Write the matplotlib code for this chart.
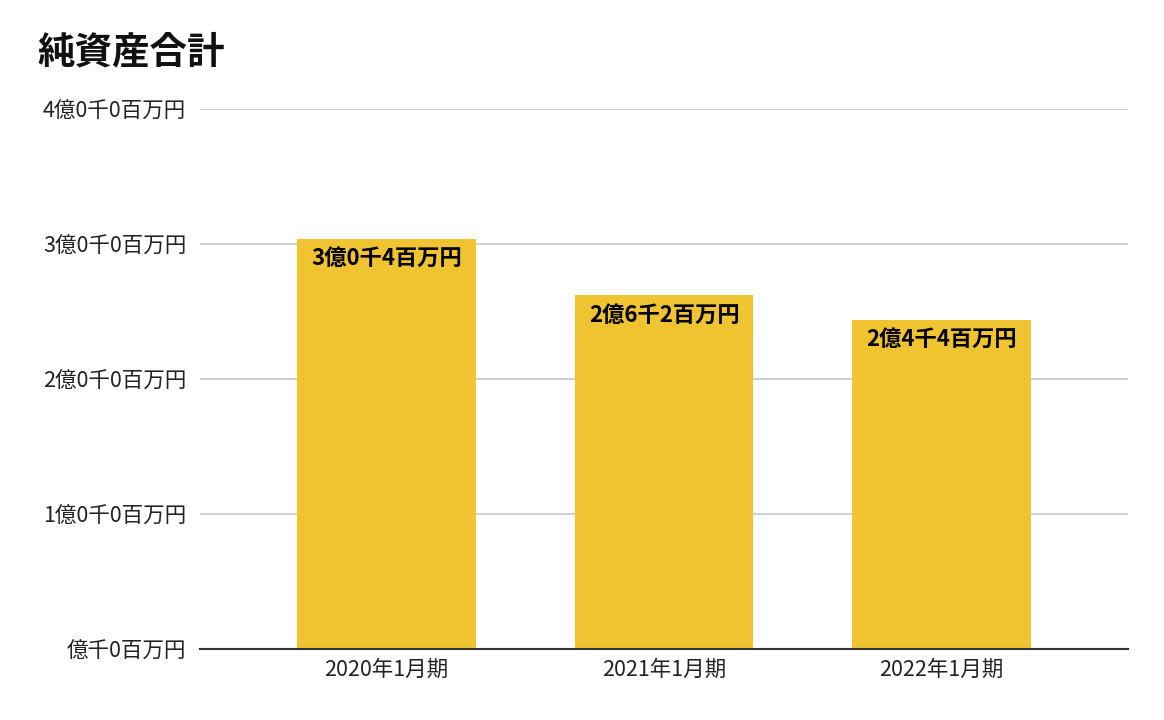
import matplotlib.pyplot as plt

plt.rcParams['font.family'] = ['Noto Sans CJK JP', 'DejaVu Sans']

periods = ['2020年1月期', '2021年1月期', '2022年1月期']
net_assets = [3.04, 2.62, 2.44]  # 億円
bar_labels = ['3億0千4百万円', '2億6千2百万円', '2億4千4百万円']
y_ticks = [0, 1, 2, 3, 4]
y_tick_labels = ['億千0百万円', '1億0千0百万円', '2億0千0百万円', '3億0千0百万円', '4億0千0百万円']

fig = plt.figure(figsize=(11.64, 7.2), dpi=100)
ax = fig.add_axes([200 / 1164, 1 - 649 / 720, 928 / 1164, 540 / 720])

x = range(len(periods))
bars = ax.bar(x, net_assets, width=0.645, color='#F0C330', zorder=3)

for b, lab in zip(bars, bar_labels):
    ax.annotate(lab, (b.get_x() + b.get_width() / 2, b.get_height()),
                xytext=(0, -14.5), textcoords='offset points',
                ha='center', va='center', fontsize=16, fontweight='bold',
                color='#000000', zorder=4)

ax.set_xlim(-0.672, 2.672)
ax.set_ylim(0, 4)
ax.set_xticks(list(x))
ax.set_xticklabels(periods, fontsize=15.5, color='#222222')
ax.set_yticks(y_ticks)
ax.set_yticklabels(y_tick_labels, fontsize=15.5, color='#222222')
ax.tick_params(axis='both', length=0)
ax.tick_params(axis='y', pad=10)
ax.tick_params(axis='x', pad=7)

ax.grid(axis='y', color='#cccccc', linewidth=1.3, zorder=0)
for s in ['top', 'right', 'left']:
    ax.spines[s].set_visible(False)
ax.spines['bottom'].set_color('#333333')
ax.spines['bottom'].set_linewidth(1.5)
ax.spines['bottom'].set_zorder(5)

fig.text(37 / 1164, 1 - 52 / 720, '純資産合計', fontsize=27, fontweight='bold',
         ha='left', va='center', color='#111111')

fig.savefig('out.png', dpi=100)
